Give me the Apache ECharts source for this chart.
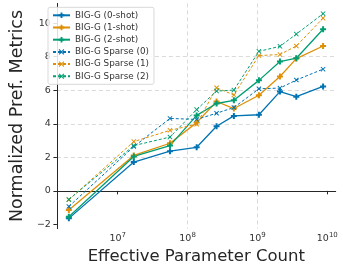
<!DOCTYPE html>
<html><head><meta charset="utf-8">
<script src="https://cdn.jsdelivr.net/npm/echarts@6/dist/echarts.min.js"></script>
<style>html,body{margin:0;padding:0;background:#fff}#c{width:343px;height:270px}</style>
</head><body><div id="c"></div>
<script>
const params = [2.0e6, 1.7e7, 5.6e7, 1.35e8, 2.6e8, 4.6e8, 1.05e9, 2.1e9, 3.6e9, 8.7e9];
const g0 = [-1.64, 1.72, 2.37, 2.60, 3.85, 4.47, 4.54, 5.92, 5.62, 6.23];
const g1 = [-1.14, 2.11, 2.84, 4.07, 5.33, 4.91, 5.70, 6.82, 7.89, 8.64];
const g2 = [-1.54, 2.05, 2.70, 4.50, 5.21, 5.40, 6.59, 7.71, 7.91, 9.64];
const s0 = [-0.93, 2.64, 4.32, 4.26, 4.63, 4.97, 6.09, 6.13, 6.61, 7.26];
const s1 = [-0.53, 2.94, 3.61, 3.98, 6.15, 5.72, 8.07, 8.13, 8.64, 10.30];
const s2 = [-0.51, 2.70, 3.21, 4.85, 5.95, 6.01, 8.32, 8.62, 9.35, 10.57];
const names = ['BIG-G (0-shot)','BIG-G (1-shot)','BIG-G (2-shot)','BIG-G Sparse (0)','BIG-G Sparse (1)','BIG-G Sparse (2)'];
const xTicks = [1e7, 1e8, 1e9, 1e10];
const yTicks = [-2, 0, 2, 4, 6, 8, 10];

const blue = '#0173b2', orange = '#de8f05', green = '#029e73';
const plus = 'path://M-1,-3L1,-3L1,-1L3,-1L3,1L1,1L1,3L-1,3L-1,1L-3,1L-3,-1L-1,-1Z';
const cross = 'path://M-3,-2.2L-2.2,-3L0,-0.8L2.2,-3L3,-2.2L0.8,0L3,2.2L2.2,3L0,0.8L-2.2,3L-3,2.2L-0.8,0Z';
function mk(name, vals, color, dashed) {
  return {
    name, type: 'line', data: params.map((p, i) => [p, vals[i]]),
    symbol: dashed ? cross : plus, symbolSize: dashed ? 5 : 6, showSymbol: true,
    lineStyle: { color, width: dashed ? 1 : 1.3, type: dashed ? [3, 2] : 'solid' },
    itemStyle: { color },
    animation: false
  };
}
const font = 'DejaVu Sans';
const chart = echarts.init(document.getElementById('c'));
chart.setOption({
  animation: false,
  textStyle: { fontFamily: font },
  grid: { left: 44.3, right: 7.3, top: 3.4, bottom: 39.5, containLabel: false },
  legend: {
    orient: 'vertical', left: 48, top: 7.3,
    data: names,
    itemWidth: 17, itemHeight: 7, itemGap: 2.2,
    padding: [3, 5, 3, 4],
    backgroundColor: 'rgba(255,255,255,0.85)', borderColor: '#d9d9d9', borderWidth: 1, borderRadius: 2,
    textStyle: { fontFamily: font, fontSize: 8.8, color: '#333', lineHeight: 10 }
  },
  xAxis: {
    type: 'log', logBase: 10, min: Math.pow(10, 6.13), max: Math.pow(10, 10.12),
    name: 'Effective Parameter Count', nameLocation: 'middle', nameGap: 17,
    nameTextStyle: { fontFamily: font, fontSize: 16.5, color: '#262626' },
    axisLine: { show: true, lineStyle: { color: '#262626', width: 1 } },
    axisTick: { show: true, length: 3.5, lineStyle: { color: '#262626' }, customValues: xTicks },
    axisLabel: {
      customValues: xTicks, margin: 3,
      formatter: v => '{b|10}{s|' + Math.round(Math.log10(v)) + '}',
      rich: { b: { fontFamily: font, fontSize: 9.5, color: '#333' }, s: { fontFamily: font, fontSize: 7, color: '#333', padding: [0, 0, 6, 0] } }
    },
    splitLine: { show: true, showMinLine: false, showMaxLine: false, lineStyle: { color: '#d0d0d0', type: [4, 3], width: 0.8 } }
  },
  yAxis: {
    type: 'value', min: -2.25, max: 11.18, splitNumber: 7,
    name: 'Normalized Pref. Metrics', nameLocation: 'middle', nameGap: 23,
    nameTextStyle: { fontFamily: font, fontSize: 17.5, color: '#262626' },
    axisLine: { show: true, lineStyle: { color: '#262626', width: 1 } },
    axisTick: { show: true, length: 3.5, lineStyle: { color: '#262626' }, customValues: yTicks },
    axisLabel: { customValues: yTicks, margin: 6, fontFamily: font, fontSize: 9.5, color: '#333',
      formatter: v => (v < 0 ? '\u2212' + Math.abs(v) : '' + v) },
    splitLine: { show: true, showMinLine: false, showMaxLine: false, lineStyle: { color: '#d0d0d0', type: [4, 3], width: 0.8 } }
  },
  series: [
    mk(names[0], g0, blue, false),
    mk(names[1], g1, orange, false),
    mk(names[2], g2, green, false),
    mk(names[3], s0, blue, true),
    mk(names[4], s1, orange, true),
    mk(names[5], s2, green, true)
  ]
});
</script></body></html>
